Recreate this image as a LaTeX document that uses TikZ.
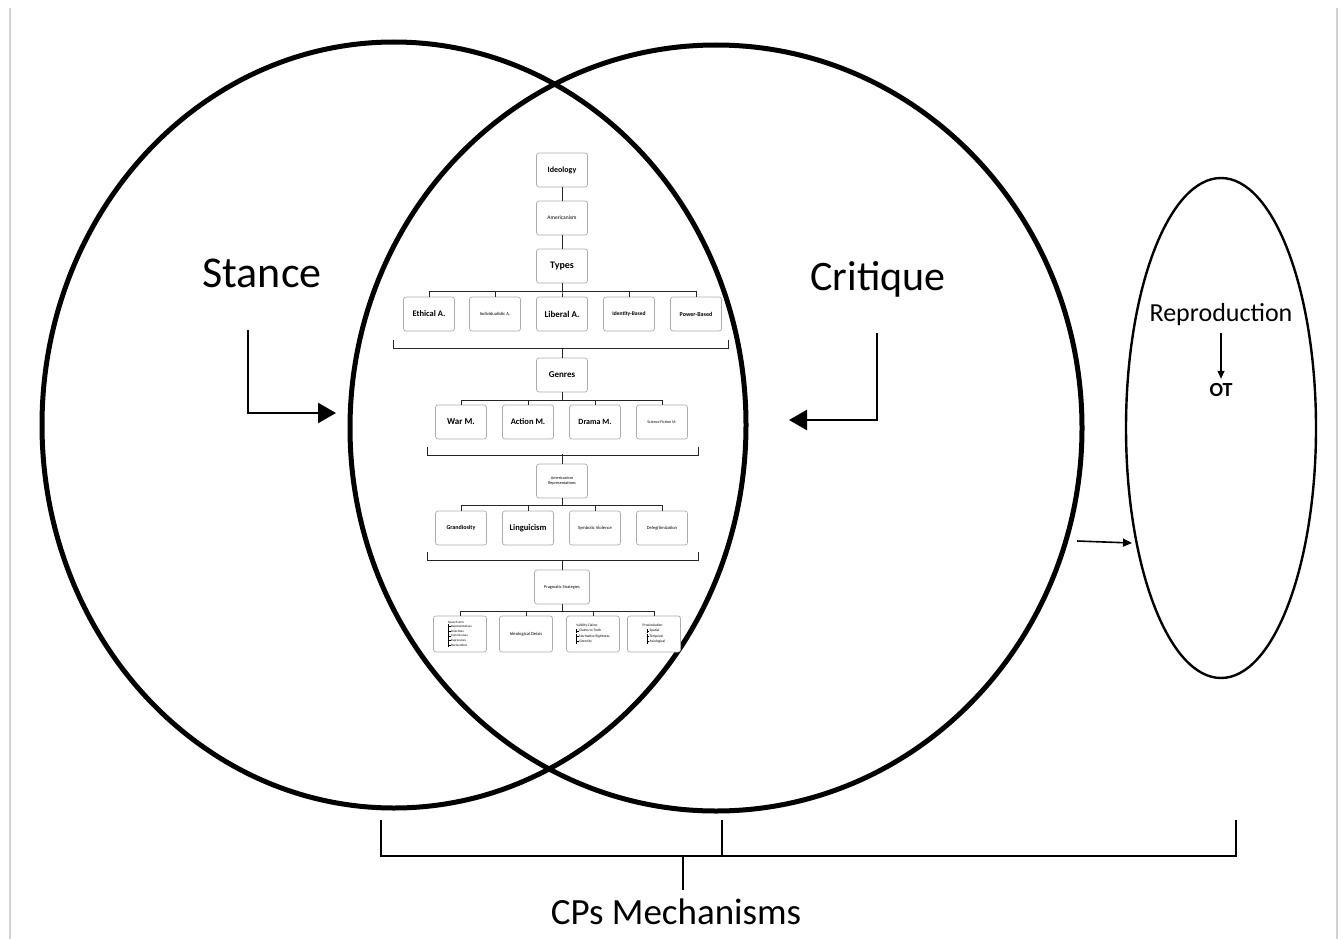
\documentclass[tikz,border=0pt]{standalone}
\usepackage{fontspec}
\setmainfont{Carlito}
\usetikzlibrary{arrows.meta, positioning, calc, shapes.geometric}

\tikzset{
  chartbox/.style={draw=gray!65, line width=0.7pt, rounded corners=2.5pt, fill=white,
                   minimum width=51pt, minimum height=34pt, inner sep=1pt, align=center},
  boldlbl/.style={font=\bfseries\fontsize{#1}{#1}\selectfont},
  thinlbl/.style={font=\fontsize{#1}{#1}\selectfont},
  treeline/.style={draw=black!85, line width=0.9pt},
  venn/.style={draw=black, line width=5pt},
  bracket/.style={draw=black, line width=2.8pt},
  bigarrow/.style={line width=2.6pt, -{Triangle[length=18pt,width=20pt]}},
  midarrow/.style={line width=1.6pt, -{Triangle[length=9pt,width=8pt]}},
  smallarrow/.style={line width=1.2pt, -{Triangle[length=8pt,width=7pt]}},
}
\newcommand{\branchitem}{\vrule height 3.4pt depth 1.2pt width 0.3pt\rule[1pt]{2pt}{0.3pt}\,}

\begin{document}
\begin{tikzpicture}[x=1pt, y=-1pt]
\useasboundingbox (0,0) rectangle (1343,939);

% page frame
\draw[gray!35, line width=2pt] (10,8) -- (10,939);
\draw[gray!35, line width=2pt] (1337,8) -- (1337,939);

% the two circles
\draw[venn] (394,425) ellipse [x radius=352pt, y radius=383pt];
\draw[venn] (716,428) ellipse [x radius=366pt, y radius=383pt];

\node[font=\fontsize{44}{44}\selectfont] (stance) at (262,273) {Stance};
\node[font=\fontsize{42}{42}\selectfont] (critique) at (878,279) {Critique};

\coordinate (stance arrow) at (248,330);
\coordinate (stance tip) at (336,413);
\draw[bigarrow] (stance arrow) |- (stance tip);
\coordinate (critique arrow) at (877,333);
\coordinate (critique tip) at (789,420);
\draw[bigarrow] (critique arrow) |- (critique tip);

% reproduction oval
\node[draw, ellipse, line width=2.4pt, minimum width=190pt, minimum height=500pt] (oval) at (1221,428) {};
\node[font=\fontsize{26}{26}\selectfont] (repro) at (1221,315) {Reproduction};
\node[font=\bfseries\fontsize{20}{20}\selectfont] (ot) at (1221,390) {OT};
\draw[smallarrow, shorten <=3pt, shorten >=1pt] (repro.south) -- (ot.north);
\coordinate (feed) at (1077,541);
\coordinate (feed tip) at (1132,543);
\draw[midarrow] (feed) -- (feed tip);

%
% the chart in the middle
\node[chartbox, boldlbl=8] (ideology) at (562,170) {Ideology};
\node[chartbox, thinlbl=5.5] (americanism) at (562,218) {Americanism};
\node[chartbox, boldlbl=10] (types) at (562,266) {Types};
\draw[treeline] (ideology) -- (americanism);
\draw[treeline] (americanism) -- (types);

\node[chartbox, boldlbl=8.5] (ethical) at (429,314) {Ethical A.};
\node[chartbox, thinlbl=4.6] (individual) at (495,314) {Individualistic A.};
\node[chartbox, boldlbl=9] (liberal) at (562,314) {Liberal A.};
\node[chartbox, boldlbl=5.5] (identity) at (629,314) {Identity-Based};
\node[chartbox, boldlbl=6] (power) at (696,314) {Power-Based};
\foreach \c in {ethical,individual,liberal,identity,power}
  \draw[treeline] (types.south) -- ++(0,8) -| (\c.north);

\coordinate (brace1 l) at (393,340);
\coordinate (brace1 r) at (728,340);
\draw[treeline] (brace1 l) -- ++(0,8) -| (brace1 r);

\node[chartbox, boldlbl=9] (genres) at (562,375) {Genres};
\draw[treeline] (genres.north) -- ++(0,-10);

\node[chartbox, boldlbl=9] (war) at (461,422) {War M.};
\node[chartbox, boldlbl=8.5] (action) at (528,422) {Action M.};
\node[chartbox, boldlbl=8] (drama) at (595,422) {Drama M.};
\node[chartbox, thinlbl=4] (scifi) at (662,422) {Science Fiction M.};
\foreach \c in {war,action,drama,scifi}
  \draw[treeline] (genres.south) -- ++(0,8) -| (\c.north);

\coordinate (brace2 l) at (427,447);
\coordinate (brace2 r) at (698,447);
\draw[treeline] (brace2 l) -- ++(0,8) -| (brace2 r);

\node[chartbox, font=\fontsize{4.2}{5.2}\selectfont] (amrep) at (562,481) {Americanism\\Representations};
\draw[treeline] (amrep.north) -- ++(0,-10);

\node[chartbox, boldlbl=6] (grandiosity) at (461,528) {Grandiosity};
\node[chartbox, boldlbl=8.5] (linguicism) at (528,528) {Linguicism};
\node[chartbox, thinlbl=4.6] (symbolic) at (595,528) {Symbolic Violence};
\node[chartbox, thinlbl=4.6] (deleg) at (662,528) {Delegitimization};
\foreach \c in {grandiosity,linguicism,symbolic,deleg}
  \draw[treeline] (amrep.south) -- ++(0,7) -| (\c.north);

\coordinate (brace3 l) at (427,552);
\coordinate (brace3 r) at (698,552);
\draw[treeline] (brace3 l) -- ++(0,8) -| (brace3 r);

\node[chartbox, thinlbl=4.3, minimum width=55pt] (pragmatic) at (562,587) {Pragmatic Strategies};
\draw[treeline] (pragmatic.north) -- ++(0,-10);

\node[chartbox, minimum width=53pt, minimum height=36pt, align=left,
      font=\fontsize{3.2}{4.6}\selectfont] (speech) at (460,634)
  {Speech Acts\\ \branchitem Representatives\\ \branchitem Directives\\
   \branchitem Commissives\\ \branchitem Expressives\\ \branchitem Declarations};
\node[chartbox, thinlbl=4.6, minimum width=53pt, minimum height=36pt] (deixis) at (526,634) {Ideological Deixis};
\node[chartbox, minimum width=53pt, minimum height=36pt, align=left,
      font=\fontsize{3.6}{5.4}\selectfont] (validity) at (593,634)
  {Validity Claims\\ \branchitem Claims to Truth\\ \branchitem Normative Rightness\\ \branchitem Sincerity};
\node[chartbox, minimum width=53pt, minimum height=36pt, align=left,
      font=\fontsize{3.6}{5.4}\selectfont] (proximization) at (654,634)
  {Proximization\\ \hspace*{4pt}\branchitem Spatial\\ \hspace*{4pt}\branchitem Temporal\\ \hspace*{4pt}\branchitem Axiological};
\foreach \c in {speech,deixis,validity,proximization}
  \draw[treeline] (pragmatic.south) -- ++(0,7) -| (\c.north);

%
% bottom bracket
\coordinate (mech a) at (381,820);
\coordinate (mech b) at (722,820);
\coordinate (mech c) at (1236,820);
\coordinate (mech stem) at (683,856);
\draw[bracket] (mech a) -- ++(0,36) -| (mech c);
\draw[bracket] (mech b) -- ++(0,36);
\node[font=\fontsize{37}{37}\selectfont] (cps) at (676,912) {CPs Mechanisms};
\draw[bracket] (mech stem) -- ++(0,34);
\end{tikzpicture}
\end{document}
